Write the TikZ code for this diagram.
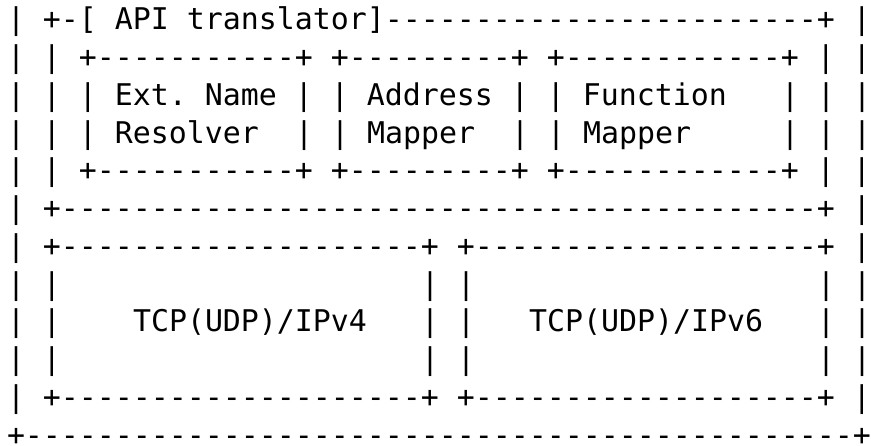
\documentclass[tikz,border=0pt]{standalone}
\usepackage{fontspec}
\setmonofont{DejaVu Sans Mono}
\ExplSyntaxOn
\NewDocumentCommand\dashrun{m}{\prg_replicate:nn{#1}{-}}
\ExplSyntaxOff
\frenchspacing
\begin{document}
\begin{tikzpicture}[x=1pt,y=1pt,
  ascii/.style={anchor=base west, inner sep=0pt, outer sep=0pt,
    font=\ttfamily\fontsize{29.9}{37.73}\selectfont, text=black}]
\useasboundingbox (0,0) rectangle (871,446);
\newcommand\asc[3]{\node[ascii] (t#1x#2) at ({7+18*#2},{416-37.73*#1}) {#3};}
% row 0
\asc{0}{0}{|\ +-[\ API\ translator]\dashrun{24}+\ |}
% row 1
\asc{1}{0}{|\ |\ +\dashrun{11}+\ +\dashrun{9}+\ +\dashrun{12}+\ |\ |}
% row 2
\asc{2}{0}{|\ |\ |\ Ext.\ Name\ |\ |\ Address\ |\ |\ Function}
\asc{2}{43}{|\ |\ |}
% row 3
\asc{3}{0}{|\ |\ |\ Resolver}
\asc{3}{16}{|\ |\ Mapper}
\asc{3}{28}{|\ |\ Mapper}
\asc{3}{43}{|\ |\ |}
% row 4
\asc{4}{0}{|\ |\ +\dashrun{11}+\ +\dashrun{9}+\ +\dashrun{12}+\ |\ |}
% row 5
\asc{5}{0}{|\ +\dashrun{42}+\ |}
% row 6
\asc{6}{0}{|\ +\dashrun{20}+\ +\dashrun{19}+\ |}
% row 7
\asc{7}{0}{|\ |}
\asc{7}{23}{|\ |}
\asc{7}{45}{|\ |}
% row 8
\asc{8}{0}{|\ |}
\asc{8}{7}{TCP(UDP)/IPv4}
\asc{8}{23}{|\ |}
\asc{8}{29}{TCP(UDP)/IPv6}
\asc{8}{45}{|\ |}
% row 9
\asc{9}{0}{|\ |}
\asc{9}{23}{|\ |}
\asc{9}{45}{|\ |}
% row 10
\asc{10}{0}{|\ +\dashrun{20}+\ +\dashrun{19}+\ |}
% row 11
\asc{11}{0}{+\dashrun{46}+}
\end{tikzpicture}
\end{document}
